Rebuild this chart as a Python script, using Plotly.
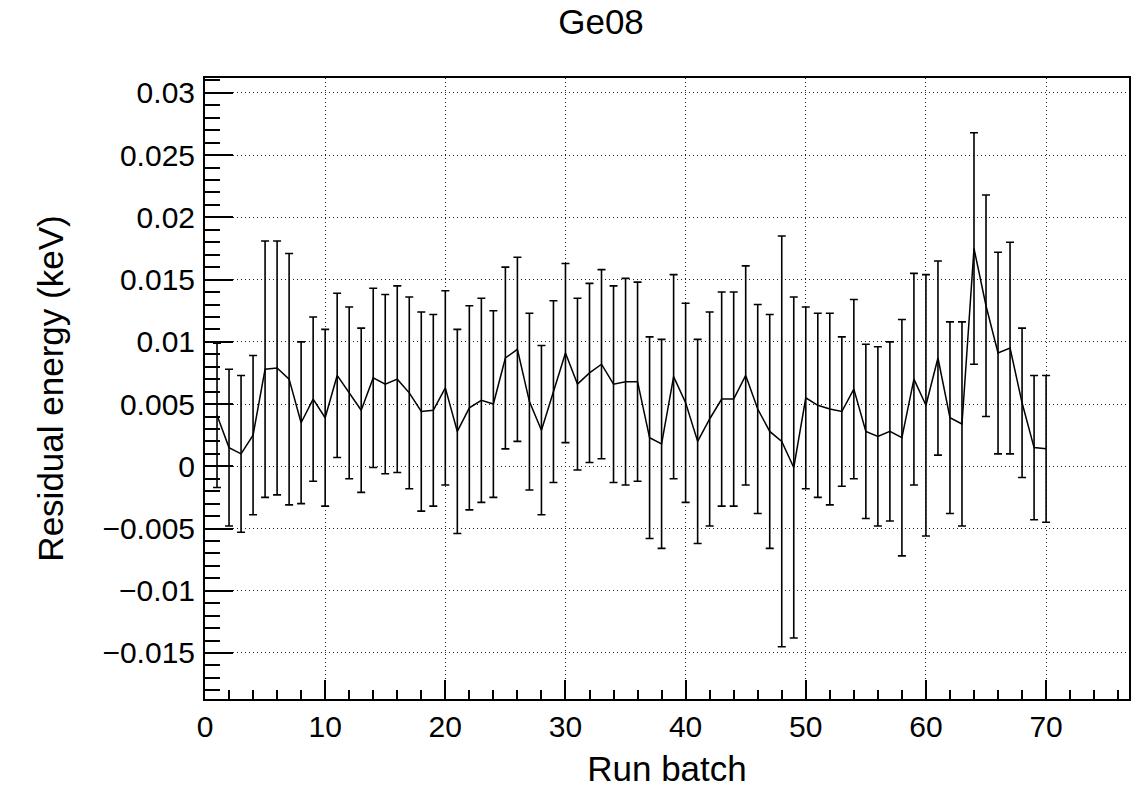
import plotly.graph_objects as go

run_batch = list(range(1, 71))
residual = [
    0.0041, 0.0015, 0.0010, 0.0025, 0.0078, 0.0079, 0.0070, 0.0035, 0.0054, 0.0039,
    0.0073, 0.0059, 0.0045, 0.0071, 0.0066, 0.0070, 0.0059, 0.0044, 0.0045, 0.0063,
    0.0028, 0.0047, 0.0053, 0.0050, 0.0087, 0.0094, 0.0052, 0.0029, 0.0060, 0.0091,
    0.0066, 0.0075, 0.0082, 0.0066, 0.0068, 0.0068, 0.0023, 0.0018, 0.0072, 0.0051,
    0.0020, 0.0038, 0.0054, 0.0054, 0.0073, 0.0046, 0.0028, 0.0020, -0.0001, 0.0055,
    0.0049, 0.0046, 0.0044, 0.0062, 0.0028, 0.0024, 0.0028, 0.0023, 0.0070, 0.0049,
    0.0087, 0.0039, 0.0034, 0.0175, 0.0129, 0.0091, 0.0095, 0.0051, 0.0015, 0.0014,
]
errors = [
    0.0058, 0.0063, 0.0063, 0.0064, 0.0103, 0.0102, 0.0101, 0.0065, 0.0066, 0.0071,
    0.0066, 0.0069, 0.0066, 0.0072, 0.0072, 0.0075, 0.0077, 0.0080, 0.0077, 0.0078,
    0.0082, 0.0082, 0.0082, 0.0075, 0.0073, 0.0074, 0.0071, 0.0068, 0.0073, 0.0072,
    0.0069, 0.0072, 0.0076, 0.0079, 0.0083, 0.0080, 0.0081, 0.0084, 0.0082, 0.0080,
    0.0082, 0.0086, 0.0086, 0.0086, 0.0088, 0.0084, 0.0094, 0.0165, 0.0137, 0.0073,
    0.0074, 0.0077, 0.0060, 0.0072, 0.0070, 0.0072, 0.0072, 0.0095, 0.0085, 0.0105,
    0.0078, 0.0077, 0.0082, 0.0093, 0.0089, 0.0081, 0.0085, 0.0060, 0.0058, 0.0059,
]

title_text = "Ge08"
x_title = "Run batch"
y_title = "Residual energy (keV)"

font_family = "Liberation Sans, Arial, Helvetica, sans-serif"

fig = go.Figure()
fig.add_trace(go.Scatter(
    x=run_batch, y=residual, mode="lines",
    line=dict(color="black", width=1.5),
    error_y=dict(type="data", array=errors, visible=True,
                 color="black", thickness=1.6, width=4),
    showlegend=False,
))

axis_common = dict(
    showline=True, linecolor="black", linewidth=2, mirror=True,
    ticks="inside", tickcolor="black", tickwidth=1.5,
    showgrid=True, gridcolor="#222222", griddash="1px,3px", gridwidth=1.2,
    zeroline=False,
    tickfont=dict(family=font_family, size=30, color="black"),
    title_font=dict(family=font_family, size=35, color="black"),
)

fig.update_layout(
    width=1143, height=794,
    margin=dict(l=205, r=12, t=78, b=90),
    paper_bgcolor="white", plot_bgcolor="white",
    title=dict(text=title_text, x=601 / 1143, xref="container", xanchor="center",
               y=1 - 22 / 794, yref="container", yanchor="middle",
               font=dict(family=font_family, size=35, color="black")),
    xaxis=dict(
        range=[0, 76.9], dtick=10, tick0=0, ticklen=19,
        title=dict(text=x_title, standoff=14),
        minor=dict(dtick=2, ticks="inside", ticklen=9, tickcolor="black", tickwidth=1.5, showgrid=False),
        **axis_common,
    ),
    yaxis=dict(
        range=[-0.0187, 0.0312], dtick=0.005, tick0=0, ticklen=28,
        title=dict(text=y_title, standoff=28),
        minor=dict(dtick=0.001, ticks="inside", ticklen=15, tickcolor="black", tickwidth=1.5, showgrid=False),
        ticklabelstandoff=2,
        **axis_common,
    ),
)

fig.write_html("out.html")
